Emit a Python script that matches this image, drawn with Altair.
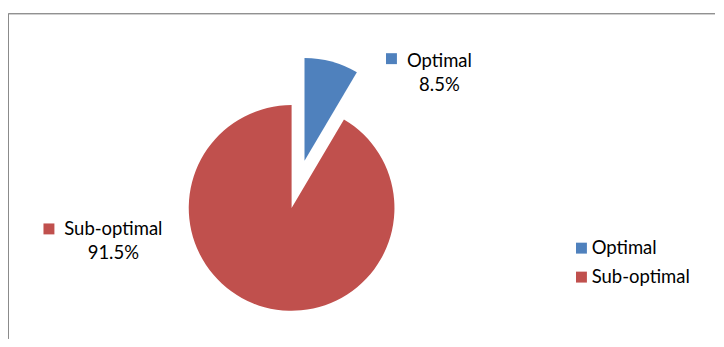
import altair as alt
import pandas as pd

categories = ["Optimal", "Sub-optimal"]
values = [8.5, 91.5]
colors = ["#4F81BD", "#C0504D"]

df = pd.DataFrame({"category": categories, "value": values})

W, H = 708, 331
CX, CY = 284, 200
R = 103
EXPLODE = 49
FONT = "Lato"
FS = 18.5

color_scale = alt.Scale(domain=categories, range=colors)

base = (
    alt.Chart(df)
    .transform_window(cum="sum(value)", frame=[None, 0])
    .transform_joinaggregate(total="sum(value)")
    .transform_calculate(
        t0="(datum.cum - datum.value) / datum.total * 2 * PI",
        t1="datum.cum / datum.total * 2 * PI",
    )
    .transform_calculate(
        mid="(datum.t0 + datum.t1) / 2",
        off=f"datum.category == 'Optimal' ? {EXPLODE} : 0",
    )
    .transform_calculate(
        cx=f"{CX} + datum.off * sin(datum.mid)",
        cy=f"{CY} - datum.off * cos(datum.mid)",
        lbl="datum.category + '\\n' + format(datum.value, '.1f') + '%'",
    )
)

arcs = base.mark_arc(radius=R, strokeWidth=0).encode(
    theta=alt.Theta("t0:Q", scale=None),
    theta2="t1:Q",
    x=alt.X("cx:Q", scale=None),
    y=alt.Y("cy:Q", scale=None),
    color=alt.Color(
        "category:N",
        scale=color_scale,
        legend=alt.Legend(
            orient="none",
            legendX=565,
            legendY=231,
            title=None,
            symbolType="square",
            symbolSize=120,
            symbolStrokeWidth=0,
            labelFont=FONT,
            labelFontSize=FS,
            labelColor="#000000",
            labelOffset=1,
            rowPadding=10,
        ),
    ),
)

label_pos = {"Optimal": (432, 52.5, 384, 50.5), "Sub-optimal": (105.5, 221, 41, 221)}
layers = [arcs]
for cat, (tx, ty, sx, sy) in label_pos.items():
    sub = base.transform_filter(alt.datum.category == cat)
    layers.append(
        sub.mark_text(
            font=FONT, fontSize=FS, lineBreak="\n", lineHeight=24.5,
            align="center", baseline="middle", color="#000000",
        ).encode(text="lbl:N", x=alt.value(tx), y=alt.value(ty))
    )
    layers.append(
        sub.mark_square(size=120, opacity=1, filled=True, strokeWidth=0).encode(
            color=alt.Color("category:N", scale=color_scale, legend=None),
            x=alt.value(sx), y=alt.value(sy),
        )
    )

frame_v = alt.Chart(df).mark_rule(color="#8c8c8c", strokeWidth=1).encode(
    x=alt.value(0.5), y=alt.value(5.5), y2=alt.value(H)
)
frame_h = alt.Chart(df).mark_rule(color="#8c8c8c", strokeWidth=1).encode(
    x=alt.value(0.5), x2=alt.value(W), y=alt.value(5.5)
)
layers += [frame_v, frame_h]

chart = (
    alt.layer(*layers)
    .properties(width=W, height=H, padding={"left": 0, "top": 0, "right": 0, "bottom": 0})
    .configure_view(stroke=None)
)

chart.save("out.html", embed_options={"renderer": "svg", "actions": False})
